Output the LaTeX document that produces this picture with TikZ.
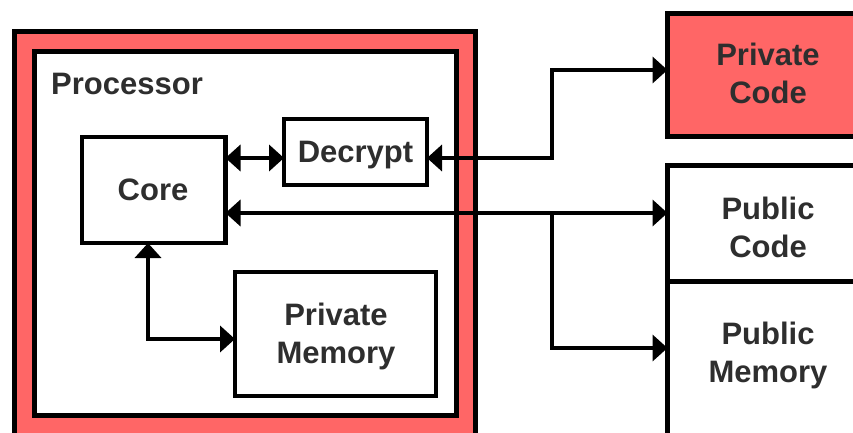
\documentclass[tikz,border=0pt]{standalone}
\usepackage{fontspec}
\setmainfont{Liberation Sans}
\usetikzlibrary{arrows.meta}
\definecolor{secure}{HTML}{FF6666}
\definecolor{ink}{HTML}{2E2E2E}
\tikzset{
  unit/.style={draw=black, line width=4.5pt, fill=white, inner sep=0pt, outer sep=0pt},
  frame/.style={draw=black, line width=5pt, inner sep=0pt, outer sep=0pt},
  lbl/.style={text=ink, font=\fontsize{31}{38}\selectfont\bfseries, inner sep=0pt, anchor=base, align=center},
  link/.style={draw=black, line width=4.3pt, line join=miter,
    arrows={Triangle[length=15pt,width=26pt]-Triangle[length=15pt,width=26pt]}},
  feed/.style={draw=black, line width=4.3pt, line join=miter,
    arrows={-Triangle[length=15pt,width=26pt]}}
}
\begin{document}
\begin{tikzpicture}[x=1pt,y=-1pt]
\useasboundingbox (0,0) rectangle (853,433);
\clip (0,0) rectangle (853,433);

% processor enclosure: shaded band between two borders
\node[frame, fill=secure, minimum width=460.5pt, minimum height=428.5pt] (procout) at (244.75,245.75) {};
\node[frame, fill=white, minimum width=422pt, minimum height=364pt] (procin) at (245,233.5) {};
\node[lbl, anchor=base west] (proclbl) at (51,95) {Processor};

% units inside the processor
\node[unit, minimum width=143.5pt, minimum height=106pt] (core) at (153.75,190) {};
\node[lbl] (corelbl) at (153,200) {Core};
\node[unit, minimum width=143pt, minimum height=66pt] (decrypt) at (355.5,152) {};
\node[lbl] (decryptlbl) at (355.5,162) {Decrypt};
\node[unit, minimum width=201pt, minimum height=124pt] (privmem) at (335.5,334) {};
\node[lbl] (privmemlbl) at (336,363) {Private\\Memory};

% external stores
\node[unit, fill=secure, minimum width=232.5pt, minimum height=123pt] (privcode) at (783.75,75) {};
\node[lbl] (privcodelbl) at (768,103) {Private\\Code};
\node[unit, minimum width=232.5pt, minimum height=116pt] (pubcode) at (783.75,223.5) {};
\node[lbl] (pubcodelbl) at (768,257) {Public\\Code};
\node[unit, minimum width=232.5pt, minimum height=178.5pt] (pubmem) at (783.75,370.75) {};
\node[lbl] (pubmemlbl) at (768,382) {Public\\Memory};

% routing points
\coordinate (ydec) at (0,158);
\coordinate (ypub) at (0,213);
\coordinate (jpriv) at (552,70);
\coordinate (jpub) at (552,213);
\coordinate (jmem) at (148,339);

% connectors
\draw[link] (core.east |- ydec) -- (decrypt.west |- ydec);
\draw[link] (decrypt.east |- ydec) -| (jpriv) -- (privcode.west |- jpriv);
\draw[link] (core.east |- ypub) -- (pubcode.west |- ypub);
\draw[feed] (jpub) |- (pubmem.west |- 0,348);
\draw[link] (core.south -| jmem) |- (privmem.west |- jmem);
\end{tikzpicture}
\end{document}
